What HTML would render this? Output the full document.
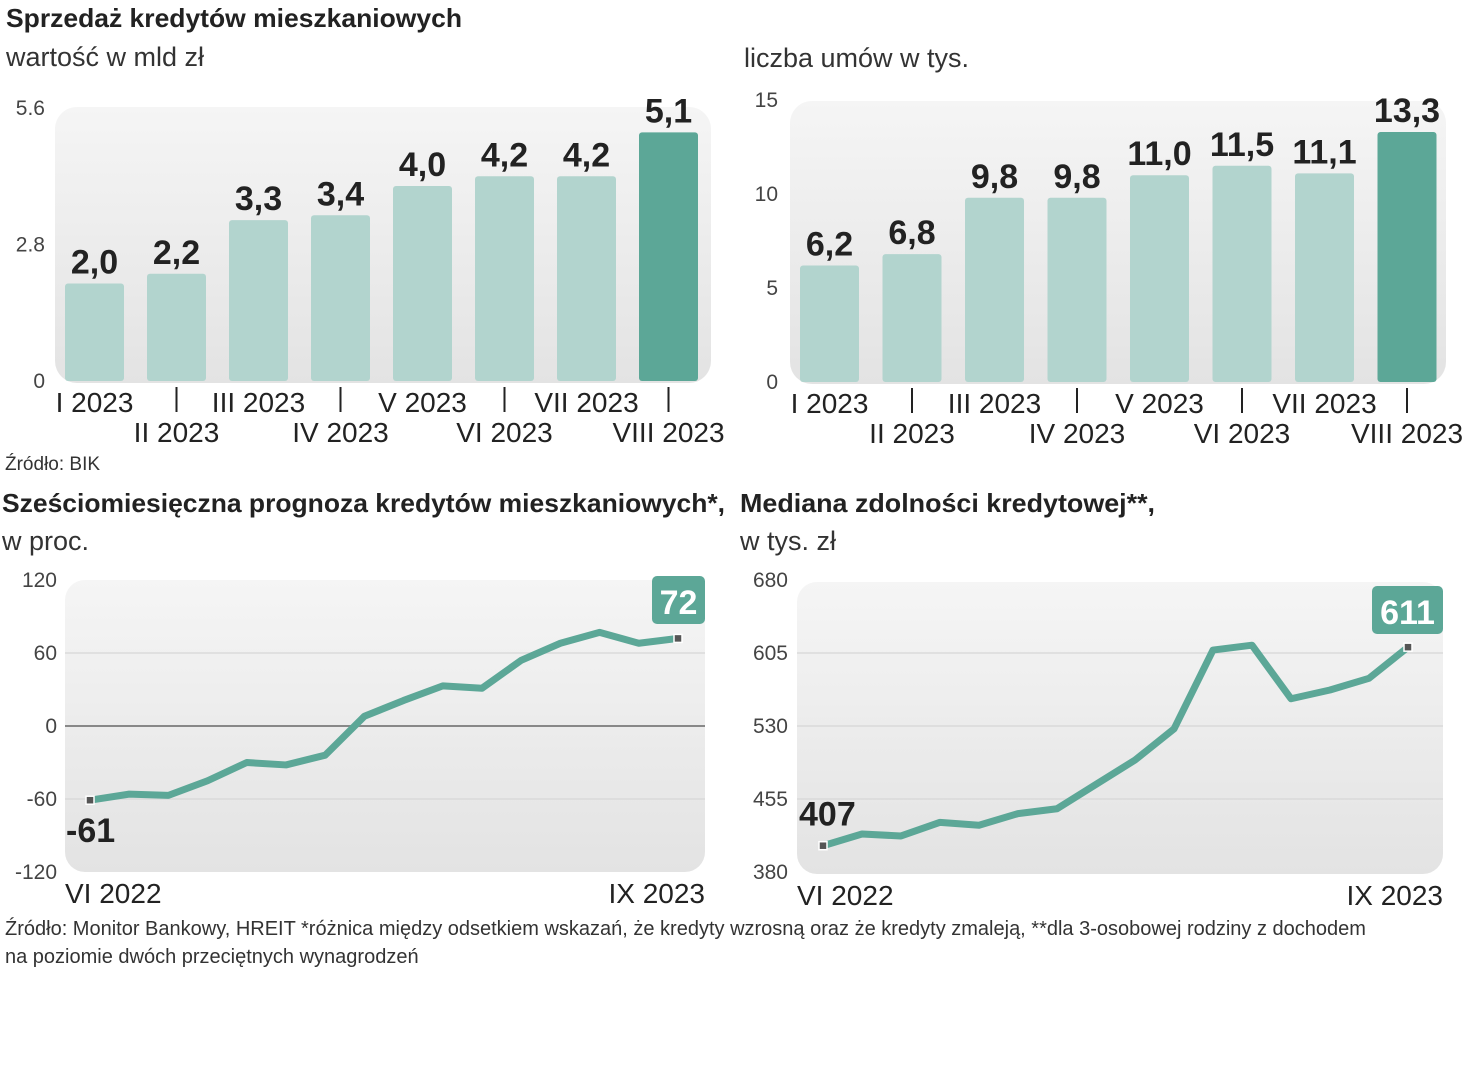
<!DOCTYPE html>
<html><head><meta charset="utf-8"><style>
body{margin:0;width:1466px;height:1080px;background:#fff;overflow:hidden;font-family:"Liberation Sans Narrow","Liberation Sans",sans-serif}
svg text{font-family:"Liberation Sans Narrow","Liberation Sans",sans-serif}
</style></head><body>
<svg id="s" width="1466" height="1080">
<defs><linearGradient id="g" x1="0" y1="0" x2="0" y2="1"><stop offset="0" stop-color="#f5f5f5"/><stop offset="1" stop-color="#e3e3e3"/></linearGradient></defs>
<text x="6" y="27" font-size="26" font-weight="bold" fill="#222" textLength="456" lengthAdjust="spacingAndGlyphs">Sprzedaż kredytów mieszkaniowych</text>
<text x="6" y="66" font-size="27" fill="#333">wartość w mld zł</text>
<text x="744" y="67" font-size="27" fill="#333">liczba umów w tys.</text>
<text x="5" y="470" font-size="19" fill="#333">Źródło: BIK</text>
<text x="2" y="512" font-size="26" font-weight="bold" fill="#222" textLength="723" lengthAdjust="spacingAndGlyphs">Sześciomiesięczna prognoza kredytów mieszkaniowych*,</text>
<text x="2" y="550" font-size="27" fill="#333">w proc.</text>
<text x="740" y="512" font-size="26" font-weight="bold" fill="#222" textLength="415" lengthAdjust="spacingAndGlyphs">Mediana zdolności kredytowej**,</text>
<text x="740" y="550" font-size="27" fill="#333">w tys. zł</text>
<text x="5" y="935" font-size="20" fill="#333">Źródło: Monitor Bankowy, HREIT *różnica między odsetkiem wskazań, że kredyty wzrosną oraz że kredyty zmaleją, **dla 3-osobowej rodziny z dochodem</text>
<text x="5" y="963" font-size="20" fill="#333">na poziomie dwóch przeciętnych wynagrodzeń</text>
</svg>
<script>
const months=["I 2023","II 2023","III 2023","IV 2023","V 2023","VI 2023","VII 2023","VIII 2023"];
const valueBn=[2.0,2.2,3.3,3.4,4.0,4.2,4.2,5.1];
const valueLabels=["2,0","2,2","3,3","3,4","4,0","4,2","4,2","5,1"];
const countK=[6.2,6.8,9.8,9.8,11.0,11.5,11.1,13.3];
const countLabels=["6,2","6,8","9,8","9,8","11,0","11,5","11,1","13,3"];
const ticksValue=[0,2.8,5.6];
const ticksCount=[0,5,10,15];
const forecast=[-61,-56,-57,-45,-30,-32,-24,8,21,33,31,54,68,77,68,72];
const ticksForecast=[-120,-60,0,60,120];
const median=[407,419,417,431,428,440,445,470,495,527,608,613,558,567,579,611];
const ticksMedian=[380,455,530,605,680];
const NS="http://www.w3.org/2000/svg";
const svg=document.getElementById('s');
function el(t,a,txt){const e=document.createElementNS(NS,t);for(const k in a)e.setAttribute(k,a[k]);if(txt!=null)e.textContent=txt;svg.appendChild(e);return e;}
function bars(o){
 const {px,py,pw,ph,x0,step,bw,ymin,ymax,y0px,y1px,data,labels,ticks,tx,n}=o;
 const p=el('rect',{x:px,y:py,width:pw,height:ph,rx:22,fill:'url(#g)'});
 
 
 const Y=v=>y0px-(v-ymin)/(ymax-ymin)*(y0px-y1px);
 ticks.forEach(t=>{const tt=el('text',{x:tx,y:Y(t)+7,'font-size':21,fill:'#444','text-anchor':'end'},String(t));
  
  });
 data.forEach((v,i)=>{const x=x0+i*step;const last=i==data.length-1;
  const r=el('rect',{x:x,y:Y(v),width:bw,height:y0px-Y(v),rx:3,fill:last?'#5ca797':'#b2d4ce'});
  
  
  const l=el('text',{x:x+bw/2,y:Y(v)-10,'font-size':34,'font-weight':'bold',fill:'#222','text-anchor':'middle'},labels[i]);
  
  
  const c=x+bw/2, up=i%2==0;
  const m=el('text',{x:c,y:up?y0px+31:y0px+61,'font-size':28,fill:'#222','text-anchor':'middle'},months[i]);
  
  
  if(!up){const k=el('line',{x1:c,x2:c,y1:y0px+6,y2:y0px+31,stroke:'#222','stroke-width':2});
   
   }
 });
}
bars({px:55,py:107,pw:656,ph:276,x0:65,step:82,bw:59,ymin:0,ymax:5.6,y0px:381,y1px:108,data:valueBn,labels:valueLabels,ticks:ticksValue,tx:45,n:'value'});
bars({px:790,py:101,pw:656,ph:283,x0:800,step:82.5,bw:59,ymin:0,ymax:15,y0px:382,y1px:100,data:countK,labels:countLabels,ticks:ticksCount,tx:778,n:'count'});
function line(o){
 const {px,py,pw,ph,x0,x1,ymin,ymax,y0px,y1px,data,ticks,tx,n,zero,box}=o;
 const p=el('rect',{x:px,y:py,width:pw,height:ph,rx:20,fill:'url(#g)'});
 
 
 const Y=v=>y0px-(v-ymin)/(ymax-ymin)*(y0px-y1px);
 const X=i=>x0+i*(x1-x0)/(data.length-1);
 ticks.forEach(t=>{
  if(t!=ymin&&t!=ymax){const g=el('line',{x1:px,x2:px+pw,y1:Y(t),y2:Y(t),stroke:t===zero?'#888':'#dadada','stroke-width':t===zero?2:1.5});
   
   }
  const tt=el('text',{x:tx,y:Y(t)+7,'font-size':21,fill:'#444','text-anchor':'end'},String(t));
  
  });
 const d=data.map((v,i)=>(i?'L':'M')+X(i)+','+Y(v)).join(' ');
 const pl=el('path',{d:d,fill:'none',stroke:'#5ca797','stroke-width':7,'stroke-linejoin':'round'});
 
 
 [0,data.length-1].forEach(i=>{const m=el('rect',{x:X(i)-4,y:Y(data[i])-4,width:8,height:8,fill:'#555',stroke:'#fff','stroke-width':1.5});
  
  });
 const f=el('text',{x:X(0)-24,y:Y(data[0])+o.firstDy,'font-size':34,'font-weight':'bold',fill:'#222'},String(data[0]));
 
 
 const lv=data[data.length-1];
 const b=el('rect',{x:box[0],y:box[1],width:box[2],height:48,rx:5,fill:'#5ca797'});
 
 
 const bt=el('text',{x:box[0]+box[2]/2,y:box[1]+38,'font-size':34,'font-weight':'bold',fill:'#fff','text-anchor':'middle'},String(lv));
 
 
 const a=el('text',{x:px,y:py+ph+31,'font-size':28,fill:'#222'},'VI 2022');
 
 
 const z=el('text',{x:px+pw,y:py+ph+31,'font-size':28,fill:'#222','text-anchor':'end'},'IX 2023');
 
 
}
line({px:65,py:580,pw:640,ph:292,x0:90,x1:678,ymin:-120,ymax:120,y0px:872,y1px:580,data:forecast,ticks:ticksForecast,tx:57,n:'forecast',zero:0,box:[652,576,53],firstDy:42});
line({px:797,py:582,pw:646,ph:292,x0:823,x1:1408,ymin:380,ymax:680,y0px:872,y1px:580,data:median,ticks:ticksMedian,tx:788,n:'median',zero:null,box:[1372,586,71],firstDy:-20});
</script>
</body></html>
